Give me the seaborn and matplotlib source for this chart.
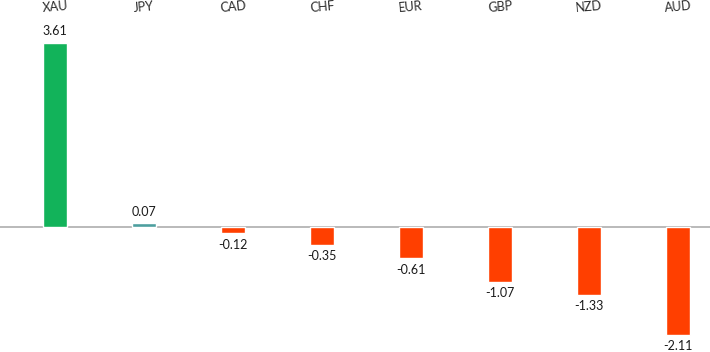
import matplotlib
matplotlib.use("Agg")
import matplotlib.pyplot as plt
import seaborn as sns
import pandas as pd

# currency performance (%)
currencies = ["XAU", "JPY", "CAD", "CHF", "EUR", "GBP", "NZD", "AUD"]
changes = [3.61, 0.07, -0.12, -0.35, -0.61, -1.07, -1.33, -2.11]

df = pd.DataFrame({"Currency": currencies, "Change": changes})

# styling
bar_colors = {"XAU": "#12b35a", "JPY": "#4d9f9f"}
neg_color = "#ff3f00"
palette = {c: bar_colors.get(c, neg_color) for c in currencies}

sns.set_theme(style="white")
plt.rcParams["font.family"] = ["Lato", "DejaVu Sans"]

fig = plt.figure(figsize=(7.1, 3.52), dpi=100)
ax = fig.add_axes([0, 0, 1, 334 / 352])

sns.barplot(data=df, x="Currency", y="Change", hue="Currency",
            palette=palette, width=0.26, legend=False, saturation=1,
            ax=ax)

for c in ax.containers:
    ax.bar_label(c, fmt="%.2f", padding=4, fontsize=9, color="#1a1a1a")

ax.axhline(0, color="#b4b4b4", lw=1.3, zorder=0)

ax.set_xlim(-0.618, 7.36)
ax.set_ylim(-125 / 51, 209 / 51)
ax.xaxis.tick_top()
ax.tick_params(axis="x", length=0, pad=3, labelsize=9, labelcolor="#2a2a2a")
plt.setp(ax.get_xticklabels(), rotation=5)
ax.set_yticks([])
ax.set(xlabel="", ylabel="")
sns.despine(ax=ax, left=True, bottom=True, top=True, right=True)

fig.savefig("out.png", dpi=100)
